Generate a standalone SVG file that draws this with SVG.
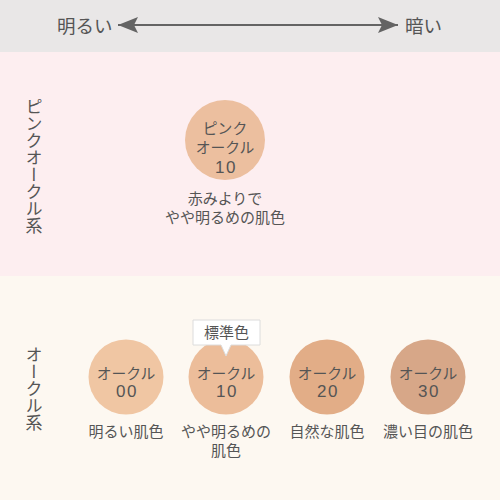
<svg xmlns="http://www.w3.org/2000/svg" width="500" height="500" viewBox="0 0 500 500">
<style>
text{font-family:"Noto Sans CJK JP","Noto Sans",sans-serif;fill:#555;}
.c{font-size:14.8px;text-anchor:middle;}
.n{font-family:"Liberation Sans","Noto Sans",sans-serif;font-size:17px;letter-spacing:1.5px;}
.l{font-size:15px;text-anchor:middle;}
.v{font-size:17px;writing-mode:vertical-rl;}
.h{font-size:18.5px;}
</style>
<defs>
<marker id="ah" viewBox="0 0 20 16" refX="20" refY="8" markerWidth="20" markerHeight="16" markerUnits="userSpaceOnUse" orient="auto-start-reverse">
<path d="M0,0 L20,8 L0,16 L4,8 Z" fill="#646464"/>
</marker>
</defs>
<rect x="0" y="0" width="500" height="52" fill="#e9e7e7"/>
<rect x="0" y="52" width="500" height="224" fill="#fdeef0"/>
<rect x="0" y="276" width="500" height="224" fill="#fdf8f1"/>
<g id="header">
<text class="h" x="57" y="33">明るい</text>
<text class="h" x="405" y="33">暗い</text>
</g>
<g id="connectors">
<line x1="118" y1="25" x2="398" y2="25" stroke="#646464" stroke-width="2" marker-start="url(#ah)" marker-end="url(#ah)"/>
</g>
<g id="pink-label"><text class="v" x="34" y="98">ピンクオークル系</text></g>
<g id="ochre-label"><text class="v" x="34" y="346">オークル系</text></g>
<g id="pink10">
<circle cx="225" cy="140" r="40" fill="#ecbf9f"/>
<text class="c" x="225" y="134">ピンク<tspan x="225" dy="19">オークル</tspan><tspan class="n" x="226" dy="20">10</tspan></text>
<text class="l" x="225" y="204">赤みよりで<tspan x="225" dy="19">やや明るめの肌色</tspan></text>
</g>
<g id="ochre00">
<circle cx="126" cy="377" r="37.5" fill="#f0c6a3"/>
<text class="c" x="126" y="379">オークル<tspan class="n" x="127" dy="18">00</tspan></text>
<text class="l" x="126" y="437">明るい肌色</text>
</g>
<g id="ochre10">
<circle cx="226" cy="377" r="37.5" fill="#ecbd9a"/>
<text class="c" x="226" y="379">オークル<tspan class="n" x="227" dy="18">10</tspan></text>
<text class="l" x="226" y="437">やや明るめの<tspan x="226" dy="19">肌色</tspan></text>
</g>
<g id="standard">
<path d="M193,320 H260 V345 H231 L226,356 L221,345 H193 Z" fill="#fff" stroke="#dcdcdc" stroke-width="1"/>
<text class="l" x="226.5" y="338">標準色</text>
</g>
<g id="ochre20">
<circle cx="327" cy="377" r="37.5" fill="#e2ad87"/>
<text class="c" x="327" y="379">オークル<tspan class="n" x="328" dy="18">20</tspan></text>
<text class="l" x="327" y="437">自然な肌色</text>
</g>
<g id="ochre30">
<circle cx="428" cy="377" r="37.5" fill="#d7a788"/>
<text class="c" x="428" y="379">オークル<tspan class="n" x="429" dy="18">30</tspan></text>
<text class="l" x="428" y="437">濃い目の肌色</text>
</g>
</svg>
